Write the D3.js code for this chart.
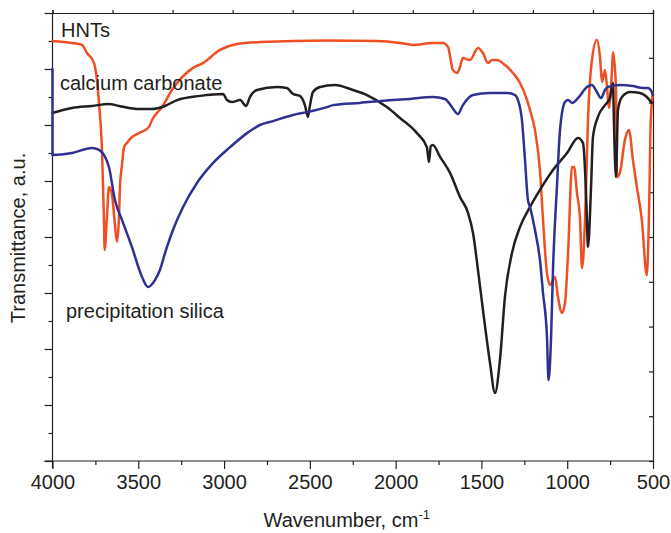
<!DOCTYPE html>
<html lang="en">
<head>
    <meta charset="UTF-8">
    <title>FTIR spectra</title>
    <style>
        body { margin: 0; background: #fff; }
        .line { fill: none; stroke-width: 2.5; stroke-linejoin: round; stroke-linecap: round; }
        .axis path, .axis line { stroke: #231f20; stroke-width: 1.2; }
        .axis text { font-family: "Liberation Sans", Arial, sans-serif; font-size: 20px; fill: #231f20; }
        .label { font-family: "Liberation Sans", Arial, sans-serif; font-size: 20px; fill: #231f20; }
    </style>
</head>
<body>
<svg width="671" height="533"></svg>
<script src="https://d3js.org/d3.v7.min.js"></script>
<script>
// wavenumber (cm-1), transmittance (a.u.)
const hnts = [
    [4000, 15.0], [3886, 14.93], [3828, 14.86], [3799, 14.57], [3758, 14.21], [3745, 13.8],
    [3729, 12.79], [3711, 11.0], [3700, 8.61], [3696, 7.54], [3682, 8.79], [3671, 9.79],
    [3653, 9.5], [3636, 8.43], [3624, 7.83], [3612, 8.79], [3607, 9.79], [3595, 10.57],
    [3583, 11.21], [3566, 11.36], [3537, 11.57], [3496, 11.71], [3438, 11.93], [3420, 12.18],
    [3362, 12.64], [3304, 13.25], [3181, 14.04], [3123, 14.21], [3024, 14.68], [2925, 14.89],
    [2791, 14.96], [2400, 15.02], [2109, 15.0], [1975, 14.93], [1899, 14.86], [1783, 14.93],
    [1724, 14.93], [1695, 14.79], [1666, 13.96], [1642, 13.86], [1625, 14.07], [1608, 14.39],
    [1567, 14.32], [1520, 14.75], [1491, 14.57], [1462, 14.21], [1439, 14.32], [1409, 14.32],
    [1363, 14.14], [1316, 13.86], [1275, 13.5], [1234, 12.89], [1217, 12.54], [1188, 11.82],
    [1159, 10.39], [1141, 8.61], [1118, 6.71], [1100, 6.29], [1071, 6.57], [1054, 5.86],
    [1030, 5.29], [1013, 5.64], [995, 7.43], [972, 10.5], [960, 10.5], [943, 9.57],
    [925, 8.61], [914, 6.89], [896, 8.61], [879, 12.18], [856, 14.32], [827, 15.04],
    [809, 14.43], [797, 13.54], [780, 13.96], [768, 13.36], [757, 12.61], [739, 13.96],
    [733, 14.61], [716, 13.36], [710, 10.14], [693, 10.29], [664, 11.46], [640, 11.82],
    [617, 10.75], [594, 9.79], [565, 8.61], [536, 6.64], [524, 8.61], [513, 12.18], [501, 13.14]
];

const carbonate = [
    [4000, 12.43], [3886, 12.61], [3770, 12.68], [3671, 12.75], [3612, 12.68], [3496, 12.57],
    [3420, 12.57], [3344, 12.68], [3274, 12.89], [3140, 13.04], [3006, 13.11], [2983, 12.89],
    [2954, 12.82], [2907, 12.89], [2872, 12.68], [2849, 13.0], [2808, 13.25], [2692, 13.36],
    [2634, 13.32], [2598, 13.11], [2558, 13.04], [2529, 12.71], [2511, 12.29], [2499, 12.71],
    [2482, 13.18], [2441, 13.36], [2354, 13.43], [2249, 13.25], [2167, 13.07], [2051, 12.64],
    [1975, 12.25], [1876, 11.71], [1818, 11.21], [1806, 10.68], [1795, 11.25], [1783, 11.29],
    [1741, 10.86], [1683, 10.29], [1625, 9.43], [1578, 8.86], [1549, 8.14], [1520, 6.82],
    [1491, 5.39], [1450, 3.5], [1421, 2.43], [1392, 3.61], [1363, 5.86], [1322, 7.43],
    [1275, 8.36], [1217, 9.07], [1159, 9.68], [1083, 10.39], [1001, 11.0], [937, 11.54],
    [908, 11.36], [896, 10.39], [885, 8.61], [879, 7.64], [861, 9.79], [850, 11.57],
    [821, 12.29], [780, 12.71], [751, 12.96], [733, 13.5], [728, 12.18], [716, 10.14],
    [704, 12.54], [681, 13.0], [634, 13.18], [576, 13.14], [536, 13.0], [507, 12.79]
];

const silica = [
    [4000, 14.0], [4000, 10.93], [3886, 11.0], [3770, 11.18], [3729, 11.11], [3700, 10.93],
    [3671, 10.5], [3636, 9.32], [3595, 8.61], [3537, 7.64], [3478, 6.57], [3443, 6.21],
    [3403, 6.46], [3374, 6.82], [3344, 7.43], [3298, 8.25], [3239, 9.07], [3158, 9.93],
    [3065, 10.64], [2965, 11.21], [2866, 11.71], [2791, 12.0], [2715, 12.14], [2598, 12.36],
    [2517, 12.46], [2400, 12.64], [2365, 12.71], [2208, 12.79], [2016, 12.89], [1917, 12.93],
    [1783, 13.0], [1712, 12.93], [1672, 12.64], [1637, 12.39], [1608, 12.71], [1549, 13.07],
    [1450, 13.14], [1351, 13.14], [1304, 13.07], [1287, 12.89], [1264, 12.18], [1246, 10.75],
    [1229, 9.32], [1217, 9.07], [1188, 8.25], [1159, 7.18], [1141, 6.0], [1118, 4.43],
    [1109, 2.89], [1094, 4.43], [1083, 6.82], [1060, 9.79], [1042, 11.82], [1013, 12.82],
    [995, 12.89], [972, 12.79], [937, 12.96], [885, 13.36], [856, 13.43], [827, 13.18],
    [803, 12.96], [780, 13.25], [762, 13.36], [693, 13.43], [617, 13.39], [559, 13.32],
    [530, 13.32], [507, 13.18], [501, 13.07]
];

const xMajor = [4000, 3500, 3000, 2500, 2000, 1500, 1000, 500];
const xMinor = [3750, 3250, 2750, 2250, 1750, 1250, 750];

const series = [
    {name: "HNTs", values: hnts, color: "#f04e23", lx: 61, ly: 37},
    {name: "calcium carbonate", values: carbonate, color: "#231f20", lx: 60, ly: 90},
    {name: "precipitation silica", values: silica, color: "#2e3192", lx: 66, ly: 318}
];

const svg = d3.select("svg"),
    margin = {top: 13, right: 18, bottom: 72, left: 52.5},
    width = 671 - margin.left - margin.right,
    height = 533 - margin.top - margin.bottom,
    g = svg.append("g").attr("transform", `translate(${margin.left},${margin.top})`);

const x = d3.scaleLinear().domain([4000, 500]).range([0, width]);
const y = d3.scaleLinear().domain([0, 16]).range([height, 0]);

const line = d3.line()
    .x(d => x(d[0]))
    .y(d => y(d[1]))
    .curve(d3.curveMonotoneX);

// frame: top and right
g.append("g").attr("class", "axis")
    .call(d3.axisTop(d3.scaleLinear().range([0, width])).ticks(10).tickSize(3).tickFormat(""));
g.append("g").attr("class", "axis")
    .attr("transform", `translate(${width},0)`)
    .call(d3.axisRight(d3.scaleLinear().range([height, 0])).ticks(10).tickSizeInner(-4).tickSizeOuter(0).tickFormat(""));

// left axis: alternating long and short ticks
g.append("g").attr("class", "axis")
    .call(d3.axisLeft(y).tickValues(d3.range(0, 17, 2)).tickSize(8).tickFormat(""))
    .call(a => a.select(".domain").attr("d", `M0,0V${height + 7}`));
g.append("g").attr("class", "axis")
    .call(d3.axisLeft(y).tickValues(d3.range(1, 17, 2)).tickSize(4).tickFormat(""))
    .call(a => a.select(".domain").remove());

// bottom axis
g.append("g").attr("class", "axis")
    .attr("transform", `translate(0,${height})`)
    .call(d3.axisBottom(x).tickValues(xMajor).tickSize(8).tickPadding(6).tickFormat(d3.format("d")))
    .call(a => a.select(".domain").attr("d", `M-8,0H${width}`));
g.append("g").attr("class", "axis")
    .attr("transform", `translate(0,${height})`)
    .call(d3.axisBottom(x).tickValues(xMinor).tickSize(4).tickFormat(""))
    .call(a => a.select(".domain").remove());

g.selectAll(".series")
    .data(series)
    .enter().append("path")
    .attr("class", "line")
    .attr("d", d => line(d.values))
    .style("stroke", d => d.color);

svg.selectAll(".label")
    .data(series)
    .enter().append("text")
    .attr("class", "label")
    .attr("x", d => d.lx)
    .attr("y", d => d.ly)
    .text(d => d.name);

const xTitle = svg.append("text")
    .attr("class", "label")
    .attr("x", margin.left + width / 2 - 6)
    .attr("y", 527)
    .style("text-anchor", "middle");
xTitle.append("tspan").text("Wavenumber, cm");
xTitle.append("tspan").attr("dy", -8).style("font-size", "13px").text("-1");

svg.append("text")
    .attr("class", "label")
    .attr("transform", "translate(25,238) rotate(-90)")
    .style("text-anchor", "middle")
    .text("Transmittance, a.u.");
</script>
</body>
</html>
